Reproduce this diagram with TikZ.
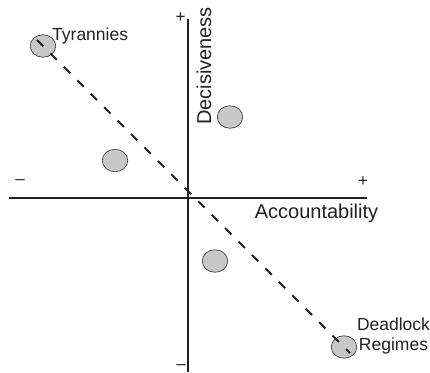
\documentclass[tikz,border=0pt]{standalone}
\usepackage{fontspec}
\setmainfont{Liberation Sans}
\usetikzlibrary{shapes.geometric,calc}
\definecolor{ink}{HTML}{231F20}
\definecolor{dotfill}{HTML}{C8C8C8}
\tikzset{
  axis/.style={draw=ink, line width=1.8pt},
  regime/.style={ellipse, draw=ink!85, line width=0.7pt, fill=dotfill,
    minimum width=25.5pt, minimum height=22.5pt, inner sep=0pt},
  trend/.style={draw=ink, line width=1.8pt, dash pattern=on 9pt off 10pt},
  axislabel/.style={text=ink, font=\fontsize{20}{22}\selectfont, inner sep=0pt},
  pointlabel/.style={text=ink, font=\fontsize{17.5}{20}\selectfont, inner sep=0pt},
  sign/.style={text=ink, font=\fontsize{17}{19}\selectfont, inner sep=0pt}
}
\begin{document}
\begin{tikzpicture}[x=1pt, y=-1pt]
  \useasboundingbox (0,0) rectangle (430,372);
  % axes
  \coordinate (xl) at (9,198);
  \coordinate (xr) at (367,198);
  \coordinate (yt) at (188,19);
  \coordinate (yb) at (188,372);
  \draw[axis] (xl) -- (xr);
  \draw[axis] (yt) -- (yb);
  % axis signs
  \node[sign] (ptop) at (180.5,18) {+};
  \node[sign] (mbot) at (181,367) {–};
  \node[sign] (mleft) at (20,182.5) {–};
  \node[sign] (pright) at (363,181.5) {+};
  % axis labels
  \node[axislabel, rotate=90] (dec) at (204,66) {Decisiveness};
  \node[axislabel] (acc) at (316.5,213) {Accountability};
  % regimes
  \node[regime] (ty) at (43,46) {};
  \node[regime] (q2) at (115,160.5) {};
  \node[regime] (q1) at (230,117) {};
  \node[regime] (q4) at (215,261) {};
  \node[regime] (dl) at (344,347) {};
  % trend line across the regimes
  \draw[trend] ($(ty.center)!-8.5pt!(dl.center)$) -- ($(dl.center)!-8.5pt!(ty.center)$);
  % point labels
  \node[pointlabel, anchor=west] (tyl) at (52,36) {Tyrannies};
  \node[pointlabel, align=center] (dll) at (393.5,335.5) {Deadlock\\Regimes};
\end{tikzpicture}
\end{document}
